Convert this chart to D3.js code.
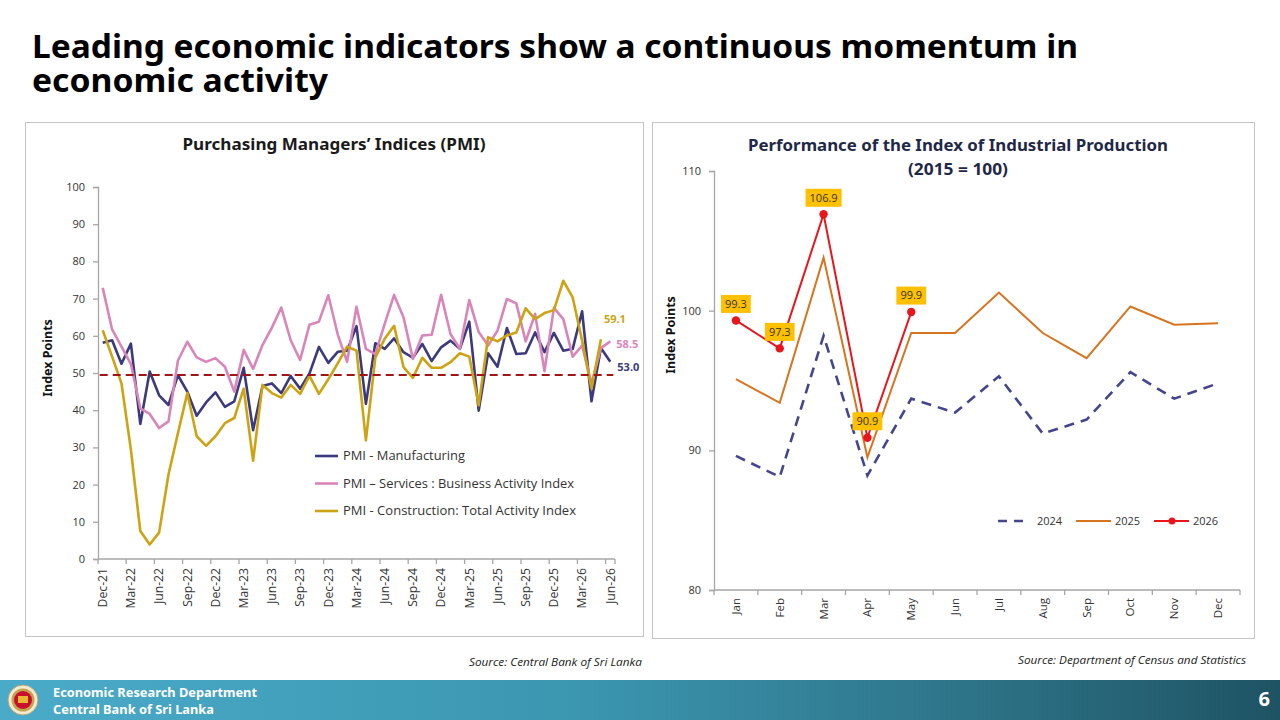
<!DOCTYPE html>
<html>
<head>
<meta charset="utf-8">
<script src="https://cdn.jsdelivr.net/npm/d3@7"></script>
<style>
  body { margin: 0; background: #fff; }
  svg { display: block; }
</style>
</head>
<body>
<svg id="slide" width="1280" height="720"></svg>
<script>
// ── PMI data (monthly, Dec-21 .. Jun-26) ─────────────
const pmiMonths = ("Dec-21 " +
  "Jan-22 Feb-22 Mar-22 Apr-22 May-22 Jun-22 Jul-22 Aug-22 Sep-22 Oct-22 Nov-22 Dec-22 " +
  "Jan-23 Feb-23 Mar-23 Apr-23 May-23 Jun-23 Jul-23 Aug-23 Sep-23 Oct-23 Nov-23 Dec-23 " +
  "Jan-24 Feb-24 Mar-24 Apr-24 May-24 Jun-24 Jul-24 Aug-24 Sep-24 Oct-24 Nov-24 Dec-24 " +
  "Jan-25 Feb-25 Mar-25 Apr-25 May-25 Jun-25 Jul-25 Aug-25 Sep-25 Oct-25 Nov-25 Dec-25 " +
  "Jan-26 Feb-26 Mar-26 Apr-26 May-26 Jun-26").split(" ")

const pmiManufacturing = [
  58.1, 58.8, 52.5, 57.9, 36.3, 50.4, 44.0, 41.4, 49.4, 45.0, 38.5, 42.1, 44.8,
  40.9, 42.4, 51.4, 34.6, 46.5, 47.2, 44.6, 49.2, 45.8, 49.9, 57.0, 52.7, 55.7,
  56.0, 62.6, 41.7, 58.0, 56.5, 59.3, 55.6, 54.1, 57.8, 53.2, 56.9, 58.7, 56.5,
  63.8, 39.9, 55.3, 51.7, 62.1, 55.1, 55.3, 60.9, 55.6, 60.8, 56.0, 56.5, 66.6,
  42.4, 56.7, 53.0
]
const pmiServices = [
  72.9, 61.7, 57.1, 52.4, 40.5, 39.0, 35.2, 37.0, 53.3, 58.4, 54.2, 53.0, 54.0,
  51.7, 45.0, 56.2, 51.1, 57.5, 62.2, 67.6, 58.8, 53.5, 63.0, 63.8, 70.9, 60.4,
  53.0, 67.8, 56.5, 55.1, 63.2, 71.0, 65.0, 53.8, 60.1, 60.3, 71.0, 60.5, 56.5,
  69.6, 61.0, 57.4, 61.4, 69.9, 68.7, 58.5, 65.9, 50.5, 67.5, 64.5, 54.4, 57.4,
  47.1, 56.7, 58.5
]
const pmiConstruction = [
  61.5, 54.4, 47.2, 29.4, 7.5, 3.9, 7.1, 22.7, 33.8, 44.6, 33.0, 30.4, 33.0,
  36.5, 37.9, 45.8, 26.4, 46.8, 44.6, 43.4, 46.8, 44.4, 49.2, 44.4, 48.3, 52.6,
  57.1, 56.0, 31.9, 54.1, 59.2, 62.7, 51.6, 48.7, 54.1, 51.4, 51.4, 52.9, 55.3,
  54.4, 41.3, 59.6, 58.5, 60.1, 60.9, 67.4, 64.5, 66.1, 66.9, 74.8, 70.3, 58.7,
  45.8, 59.1
]
const pmiThreshold = 50
const pmiTicks = [0, 10, 20, 30, 40, 50, 60, 70, 80, 90, 100]
const pmiLegend = [
  "PMI - Manufacturing",
  "PMI \u2013 Services : Business Activity Index",
  "PMI - Construction: Total Activity Index"
]

// ── Index of Industrial Production ───────────────────
const iipMonths = ["Jan", "Feb", "Mar", "Apr", "May", "Jun", "Jul", "Aug", "Sep", "Oct", "Nov", "Dec"]
const iip2024 = [89.6, 88.1, 98.2, 88.2, 93.7, 92.7, 95.3, 91.2, 92.2, 95.6, 93.7, 94.8]
const iip2025 = [95.1, 93.4, 103.8, 89.5, 98.4, 98.4, 101.3, 98.4, 96.6, 100.3, 99.0, 99.1]
const iip2026 = [99.3, 97.3, 106.9, 90.9, 99.9]
const iipYears = ["2024", "2025", "2026"]
const iipTicks = [80, 90, 100, 110]

const C = {
  navy: "#3a3a7c", pink: "#d985b9", gold: "#cda313", threshold: "#a01616",
  y2024: "#45458e", y2025: "#d7741f", y2026: "#e8161c", label: "#ffc000",
  axis: "#a6a6a6", text: "#333"
}
const FONT = "'Open Sans', sans-serif"
const HEAD = "'Noto Sans', Lato, sans-serif"

const svg = d3.select("#slide")

// squeeze/stretch a text node to the width it has in the slide
function fit(sel, w) {
  const len = sel.node().getComputedTextLength()
  if (Math.abs(len - w) > 1.5) sel.attr("textLength", w).attr("lengthAdjust", "spacingAndGlyphs")
  return sel
}

// ── Slide title (one text, two lines) ────────────────
const title = svg.append("text")
  .attr("font-family", HEAD).attr("font-weight", 700).attr("font-size", 32).attr("fill", "#000")
fit(title.append("tspan").attr("x", 32).attr("y", 58)
  .text("Leading economic indicators show a continuous momentum in"), 1046)
fit(title.append("tspan").attr("x", 32).attr("y", 92)
  .text("economic activity"), 296)

// panels
svg.append("rect").attr("x", 25.5).attr("y", 122.5).attr("width", 618).attr("height", 514)
  .attr("fill", "none").attr("stroke", "#c4c4c4")
svg.append("rect").attr("x", 652.5).attr("y", 122.5).attr("width", 602).attr("height", 516)
  .attr("fill", "none").attr("stroke", "#c4c4c4")

function styleAxis(g) {
  g.select(".domain").attr("stroke", C.axis).attr("stroke-width", 1.3)
  g.selectAll(".tick line").attr("stroke", C.axis).attr("stroke-width", 1.3)
  g.selectAll(".tick text").attr("font-family", FONT).attr("font-size", 11).attr("fill", C.text)
}

function yTitle(x, y, txt) {
  svg.append("text").attr("transform", `translate(${x},${y}) rotate(-90)`)
    .attr("text-anchor", "middle").attr("dy", "0.35em")
    .attr("font-family", HEAD).attr("font-weight", 700).attr("font-size", 12.5).attr("fill", "#111")
    .text(txt)
}

// categories sit between tick marks (Excel style)
function categoryAxis(scale, y, labels, tickEvery, labelTop, fs) {
  const [r0, r1] = scale.range()
  svg.append("line").attr("x1", r0).attr("x2", r1).attr("y1", y).attr("y2", y)
    .attr("stroke", C.axis).attr("stroke-width", 1.3)
  const tickCats = scale.domain().filter((_, i) => i % tickEvery === 0)
  const tx = tickCats.map(d => scale(d)).concat([r1])
  svg.append("g").selectAll("line").data(tx).join("line")
    .attr("x1", d => d).attr("x2", d => d).attr("y1", y).attr("y2", y + 5)
    .attr("stroke", C.axis).attr("stroke-width", 1.3)
  svg.append("g").selectAll("text").data(labels).join("text")
    .attr("transform", d => `translate(${scale(d) + scale.bandwidth() / 2},${labelTop}) rotate(-90)`)
    .attr("text-anchor", "end").attr("dy", "0.35em")
    .attr("font-family", FONT).attr("font-size", fs).attr("fill", C.text)
    .text(d => d)
}

// ── Left: PMI ────────────────────────────────────────
const L = { x0: 98, x1: 615, y0: 559, y1: 187 }
const xL = d3.scaleBand().domain(pmiMonths).range([L.x0, L.x1])
const xLc = i => xL(pmiMonths[i]) + xL.bandwidth() / 2
const yL = d3.scaleLinear().domain([0, 100]).range([L.y0, L.y1])

fit(svg.append("text").attr("x", 334).attr("y", 150).attr("text-anchor", "middle")
  .attr("font-family", HEAD).attr("font-weight", 700).attr("font-size", 16).attr("fill", "#1a1a1a")
  .text("Purchasing Managers\u2019 Indices (PMI)"), 303)

svg.append("g").attr("transform", `translate(${L.x0},0)`)
  .call(d3.axisLeft(yL).tickValues(pmiTicks).tickSize(5).tickPadding(8))
  .call(styleAxis)
yTitle(48, 358, "Index Points")
categoryAxis(xL, L.y0, pmiMonths.filter((_, i) => i % 3 === 0), 3, 568, 12.2)

const lineL = d3.line().x((d, i) => xLc(i)).y(d => yL(d))
const pmiSeries = [
  { name: pmiLegend[0], values: pmiManufacturing, color: C.navy },
  { name: pmiLegend[1], values: pmiServices, color: C.pink },
  { name: pmiLegend[2], values: pmiConstruction, color: C.gold }
]
svg.append("g").selectAll("path").data(pmiSeries).join("path")
  .attr("d", d => lineL(d.values))
  .attr("fill", "none").attr("stroke", d => d.color).attr("stroke-width", 2.6)
  .attr("stroke-linejoin", "round")

svg.append("line")
  .attr("x1", xLc(0) - 3).attr("x2", xLc(pmiMonths.length - 1) + 3)
  .attr("y1", yL(pmiThreshold) + 2).attr("y2", yL(pmiThreshold) + 2)
  .attr("stroke", C.threshold).attr("stroke-width", 2).attr("stroke-dasharray", "8,5")

// end labels
const endLabels = [
  { s: pmiSeries[2], dx: 3, dy: -20 },
  { s: pmiSeries[1], dx: 6, dy: 3 },
  { s: pmiSeries[0], dx: 7, dy: 5 }
]
svg.append("g").selectAll("text").data(endLabels).join("text")
  .attr("x", d => xLc(d.s.values.length - 1) + d.dx)
  .attr("y", d => yL(d.s.values[d.s.values.length - 1]) + d.dy)
  .attr("dy", "0.35em")
  .attr("font-family", FONT).attr("font-weight", 700).attr("font-size", 11)
  .attr("fill", d => d.s.color)
  .text(d => d3.format(".1f")(d.s.values[d.s.values.length - 1]))

const legL = svg.append("g").selectAll("g").data(pmiSeries).join("g")
  .attr("transform", (d, i) => `translate(315,${456 + i * 27.5})`)
legL.append("line").attr("x1", 0).attr("x2", 23)
  .attr("stroke", d => d.color).attr("stroke-width", 2.6)
legL.append("text").attr("x", 28).attr("dy", "0.35em")
  .attr("font-family", FONT).attr("font-size", 12).attr("fill", C.text)
  .text(d => d.name)
  .each(function (d, i) { fit(d3.select(this), [122, 231, 233][i]) })

fit(svg.append("text").attr("x", 642).attr("y", 666).attr("text-anchor", "end")
  .attr("font-family", FONT).attr("font-style", "italic").attr("font-size", 10.5).attr("fill", "#222")
  .text("Source: Central Bank of Sri Lanka"), 173)

// ── Right: IIP ───────────────────────────────────────
const R = { x0: 714, x1: 1240, y0: 590, y1: 171 }
const xR = d3.scaleBand().domain(iipMonths).range([R.x0, R.x1])
const xRc = i => xR(iipMonths[i]) + xR.bandwidth() / 2
const yR = d3.scaleLinear().domain([80, 110]).range([R.y0, R.y1])

fit(svg.append("text").attr("x", 958).attr("y", 151).attr("text-anchor", "middle")
  .attr("font-family", HEAD).attr("font-weight", 700).attr("font-size", 16).attr("fill", "#1f2846")
  .text("Performance of the Index of Industrial Production"), 420)
fit(svg.append("text").attr("x", 958).attr("y", 175).attr("text-anchor", "middle")
  .attr("font-family", HEAD).attr("font-weight", 700).attr("font-size", 16).attr("fill", "#1f2846")
  .text("(2015 = 100)"), 100)

svg.append("g").attr("transform", `translate(${R.x0},0)`)
  .call(d3.axisLeft(yR).tickValues(iipTicks).tickSize(5).tickPadding(8))
  .call(styleAxis)
yTitle(671, 335, "Index Points")
categoryAxis(xR, R.y0, iipMonths, 1, 598, 11.5)

const lineR = d3.line().x((d, i) => xRc(i)).y(d => yR(d))
const iipSeries = [
  { year: iipYears[0], values: iip2024, color: C.y2024, width: 2.6, dash: "10,7" },
  { year: iipYears[1], values: iip2025, color: C.y2025, width: 2, dash: null },
  { year: iipYears[2], values: iip2026, color: C.y2026, width: 2, dash: null }
]
svg.append("g").selectAll("path").data(iipSeries).join("path")
  .attr("d", d => lineR(d.values))
  .attr("fill", "none").attr("stroke", d => d.color).attr("stroke-width", d => d.width)
  .attr("stroke-dasharray", d => d.dash)

svg.append("g").selectAll("circle").data(iip2026).join("circle")
  .attr("cx", (d, i) => xRc(i)).attr("cy", d => yR(d)).attr("r", 4.2)
  .attr("fill", C.y2026)

// data labels for the latest year
const lab = svg.append("g").selectAll("g").data(iip2026).join("g")
  .attr("transform", (d, i) => `translate(${xRc(i)},${yR(d) - 16.5})`)
lab.append("text").attr("text-anchor", "middle").attr("dy", "0.35em")
  .attr("font-family", FONT).attr("font-size", 11).attr("fill", C.text)
  .text(d => d3.format(".1f")(d))
lab.insert("rect", "text")
  .each(function () {
    const w = this.parentNode.querySelector("text").getComputedTextLength() + 8
    d3.select(this).attr("x", -w / 2).attr("width", w)
  })
  .attr("y", -9).attr("height", 18).attr("fill", C.label)

// legend
const legR = svg.append("g").selectAll("g").data(iipSeries).join("g")
  .attr("transform", (d, i) => `translate(${998 + i * 78},521)`)
legR.append("line").attr("x1", 0).attr("x2", (d, i) => i === 0 ? 30 : 35)
  .attr("stroke", d => d.color).attr("stroke-width", d => d.width)
  .attr("stroke-dasharray", d => d.dash ? "9,7" : null)
legR.filter(d => d.year === "2026").append("circle")
  .attr("cx", 18).attr("r", 3.5).attr("fill", C.y2026)
legR.append("text").attr("x", 39).attr("dy", "0.35em")
  .attr("font-family", FONT).attr("font-size", 11).attr("fill", C.text)
  .text(d => d.year)

fit(svg.append("text").attr("x", 1246).attr("y", 664).attr("text-anchor", "end")
  .attr("font-family", FONT).attr("font-style", "italic").attr("font-size", 10.5).attr("fill", "#222")
  .text("Source: Department of Census and Statistics"), 228)

// ── Footer band ──────────────────────────────────────
const grad = svg.append("defs").append("linearGradient").attr("id", "band")
grad.append("stop").attr("offset", "0%").attr("stop-color", "#4aabc9")
grad.append("stop").attr("offset", "45%").attr("stop-color", "#3b96b0")
grad.append("stop").attr("offset", "75%").attr("stop-color", "#2e7489")
grad.append("stop").attr("offset", "100%").attr("stop-color", "#1e5363")
svg.append("rect").attr("x", 0).attr("y", 680).attr("width", 1280).attr("height", 40)
  .attr("fill", "url(#band)")

const logo = svg.append("g").attr("transform", "translate(23,700)")
logo.append("circle").attr("r", 15).attr("fill", "#f3ead2").attr("stroke", "#b5a37a").attr("stroke-width", 1)
logo.append("circle").attr("r", 11.5).attr("fill", "#c6a24a")
logo.append("circle").attr("r", 9).attr("fill", "#c8102e")
logo.append("rect").attr("x", -5).attr("y", -4).attr("width", 10).attr("height", 7).attr("fill", "#e9b830")

fit(svg.append("text").attr("x", 53).attr("y", 697)
  .attr("font-family", HEAD).attr("font-weight", 700).attr("font-size", 12.5).attr("fill", "#fff")
  .text("Economic Research Department"), 204)
fit(svg.append("text").attr("x", 53).attr("y", 714)
  .attr("font-family", HEAD).attr("font-weight", 700).attr("font-size", 12.5).attr("fill", "#fff")
  .text("Central Bank of Sri Lanka"), 161)
svg.append("text").attr("x", 1270).attr("y", 706).attr("text-anchor", "end")
  .attr("font-family", HEAD).attr("font-weight", 700).attr("font-size", 20).attr("fill", "#fff")
  .text("6")
</script>
</body>
</html>
